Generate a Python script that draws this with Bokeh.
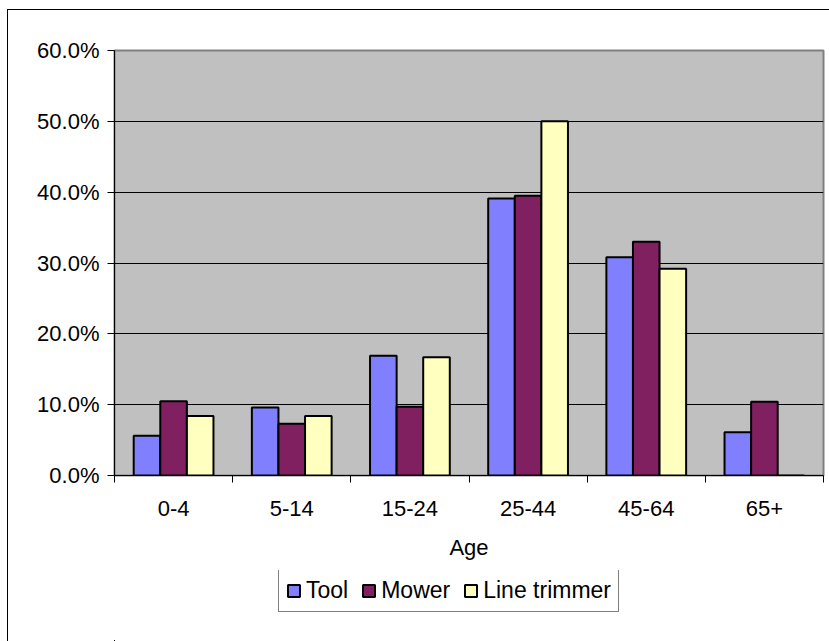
from bokeh.plotting import figure
from bokeh.layouts import column
from bokeh.models import (Range1d, FixedTicker, NumeralTickFormatter,
                          ColumnDataSource, Legend, LegendItem)
from bokeh.embed import file_html
from bokeh.resources import INLINE

ages = ["0-4", "5-14", "15-24", "25-44", "45-64", "65+"]
tool = [0.056, 0.096, 0.169, 0.391, 0.308, 0.061]
mower = [0.105, 0.073, 0.097, 0.395, 0.330, 0.104]
trimmer = [0.084, 0.084, 0.167, 0.500, 0.292, 0.0]
y_ticks = [0, 0.1, 0.2, 0.3, 0.4, 0.5, 0.6]

series = [("Tool", tool, "#8080FF", -0.225),
          ("Mower", mower, "#802060", 0.0),
          ("Line trimmer", trimmer, "#FFFFC0", 0.225)]

FONT = "Liberation Sans"
FS = "22px"

n = len(ages)
centers = [i + 0.5 for i in range(n)]
bounds = [float(i) for i in range(n + 1)]

p = figure(width=821, height=560, output_backend="svg", toolbar_location=None,
           x_range=Range1d(0, n), y_range=Range1d(0, 0.6),
           min_border_left=106, min_border_right=6, min_border_top=40, min_border_bottom=95)

p.background_fill_color = "#C0C0C0"
p.border_fill_color = "white"
p.outline_line_color = "#808080"
p.outline_line_width = 2

p.xgrid.visible = False
p.ygrid.grid_line_color = "black"
p.ygrid.grid_line_width = 1
p.ygrid.ticker = FixedTicker(ticks=y_ticks)

yax = p.yaxis[0]
yax.ticker = FixedTicker(ticks=y_ticks)
yax.formatter = NumeralTickFormatter(format="0.0%")
yax.major_tick_in = 0
yax.major_tick_out = 7
yax.minor_tick_line_color = None
yax.axis_line_color = "black"
yax.major_tick_line_color = "black"
yax.major_label_text_font = FONT
yax.major_label_text_font_size = FS
yax.major_label_text_color = "black"
yax.major_label_standoff = 8

xax = p.xaxis[0]
xax.ticker = FixedTicker(ticks=centers, minor_ticks=bounds)
xax.major_label_overrides = {c: a for c, a in zip(centers, ages)}
xax.major_tick_line_color = None
xax.minor_tick_in = 0
xax.minor_tick_out = 7
xax.minor_tick_line_color = "black"
xax.axis_line_color = "black"
xax.major_label_text_font = FONT
xax.major_label_text_font_size = FS
xax.major_label_text_color = "black"
xax.major_label_standoff = 18
xax.axis_label = "Age"
xax.axis_label_text_font = FONT
xax.axis_label_text_font_size = FS
xax.axis_label_text_font_style = "normal"
xax.axis_label_text_color = "black"
xax.axis_label_standoff = 16

for name, vals, color, off in series:
    src = ColumnDataSource(dict(x=[c + off for c in centers], top=vals))
    p.vbar(x="x", top="top", width=0.225, source=src,
           fill_color=color, line_color="black", line_width=2)

# legend strip under the chart (its frame is aligned with the chart's frame);
# the same bars are drawn there but far outside its view, so only the legend shows
pl = figure(width=821, height=71, output_backend="svg", toolbar_location=None,
            x_range=Range1d(1000, 1000 + n), y_range=Range1d(1000, 1001),
            x_axis_location=None, y_axis_location=None,
            min_border_left=106, min_border_right=6,
            min_border_top=0, min_border_bottom=0)
pl.outline_line_color = None
pl.background_fill_color = "white"
pl.border_fill_color = "white"
pl.xgrid.visible = False
pl.ygrid.visible = False

items = []
for name, vals, color, off in series:
    src = ColumnDataSource(dict(x=[c + off for c in centers], top=vals))
    r = pl.vbar(x="x", top="top", width=0.225, source=src,
                fill_color=color, line_color="black", line_width=2)
    items.append(LegendItem(label=name, renderers=[r]))

legend = Legend(items=items, orientation="horizontal", location=(164, 29))
legend.label_text_font = FONT
legend.label_text_font_size = "23px"
legend.label_text_color = "black"
legend.border_line_color = "black"
legend.border_line_width = 1
legend.background_fill_color = "white"
legend.background_fill_alpha = 1
legend.glyph_width = 15
legend.glyph_height = 15
legend.label_standoff = 5
legend.spacing = 13
legend.padding = 7
legend.margin = 0
legend.label_height = 22
pl.add_layout(legend, "center")

layout = column(p, pl, spacing=0)
layout.styles = {"border-left": "1px solid black", "border-top": "1px solid black",
                 "margin-left": "7px", "margin-top": "9px"}

open("out.html", "w").write(file_html(layout, INLINE))
